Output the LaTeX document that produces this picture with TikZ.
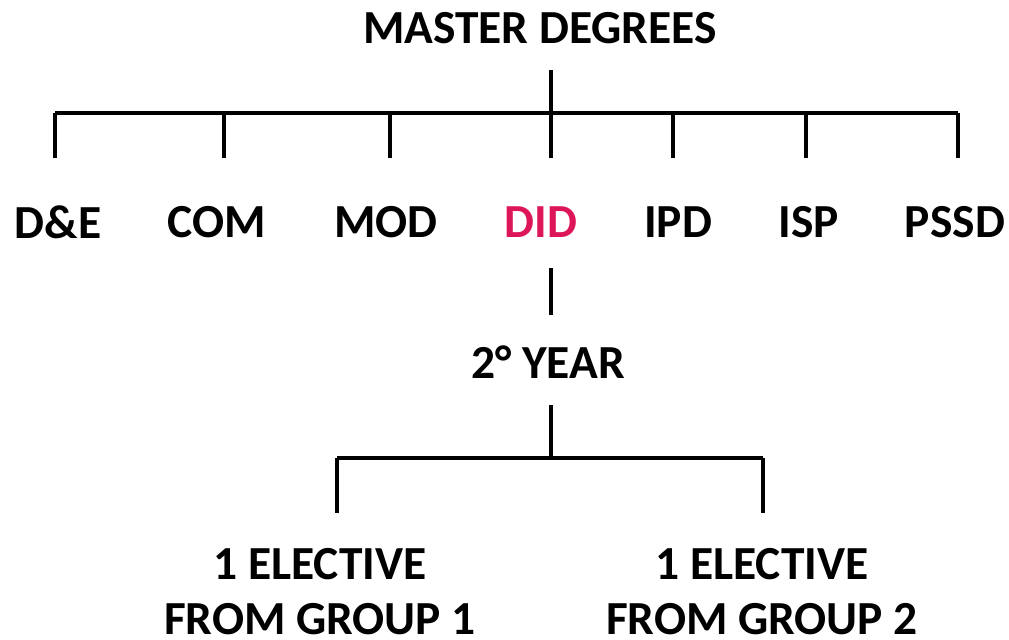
\documentclass[tikz,border=0pt]{standalone}
\usepackage{fontspec}
\setmainfont{Carlito}
\usetikzlibrary{positioning}
\definecolor{didred}{RGB}{220,22,88}

\begin{document}
\begin{tikzpicture}[lbl/.style={font=\bfseries\fontsize{13.5}{15.6}\selectfont, align=center},
	branch/.style={line width=0.9pt}]
%	\draw[very thin,densely dashed] (0,-6.4) grid (10.09,0);
	\useasboundingbox (0,0) rectangle (10.09,-6.40);
	\node [lbl] (master) at (5.40,-0.28) {MASTER DEGREES};
	\coordinate (mtop) at (5.51,-0.70);
	\coordinate (mbar) at (5.51,-1.13);
	\coordinate (barL) at (0.55,-1.13);
	\coordinate (barR) at (9.58,-1.13);
	\draw [branch] (mtop)--(mbar);
	\draw [branch] (barL)--(barR);
	% the seven degrees
	\foreach \n/\x/\lx/\txt in {de/0.55/0.58/D\&E, com/2.24/2.17/COM, mod/3.90/3.86/MOD,
		did/5.51/5.41/{\textcolor{didred}{DID}}, ipd/6.73/6.78/IPD, isp/8.06/8.09/ISP, pssd/9.58/9.55/PSSD}{
		\coordinate (d\n) at (\x,-1.13);
		\draw [branch] (d\n)--++(0,-0.45);
		\node [lbl] (\n) at (\lx,-2.22) {\txt};
	}
	\coordinate (dtop) at (5.51,-2.68);
	\coordinate (dbot) at (5.51,-3.15);
	\draw [branch] (dtop)--(dbot);
	\node [lbl] (year) at (5.48,-3.62) {2° YEAR};
	\coordinate (ytop) at (5.51,-4.05);
	\coordinate (ybar) at (5.51,-4.58);
	\coordinate (gL) at (3.37,-4.58);
	\coordinate (gR) at (7.63,-4.58);
	\draw [branch] (ytop)--(ybar);
	\draw [branch] (gL)--(gR);
	\draw [branch] (gL)--++(0,-0.55);
	\draw [branch] (gR)--++(0,-0.55);
	\node [lbl] (grp1) at (3.20,-5.92) {1 ELECTIVE\\FROM GROUP 1};
	\node [lbl] (grp2) at (7.62,-5.92) {1 ELECTIVE\\FROM GROUP 2};
\end{tikzpicture}
\end{document}
